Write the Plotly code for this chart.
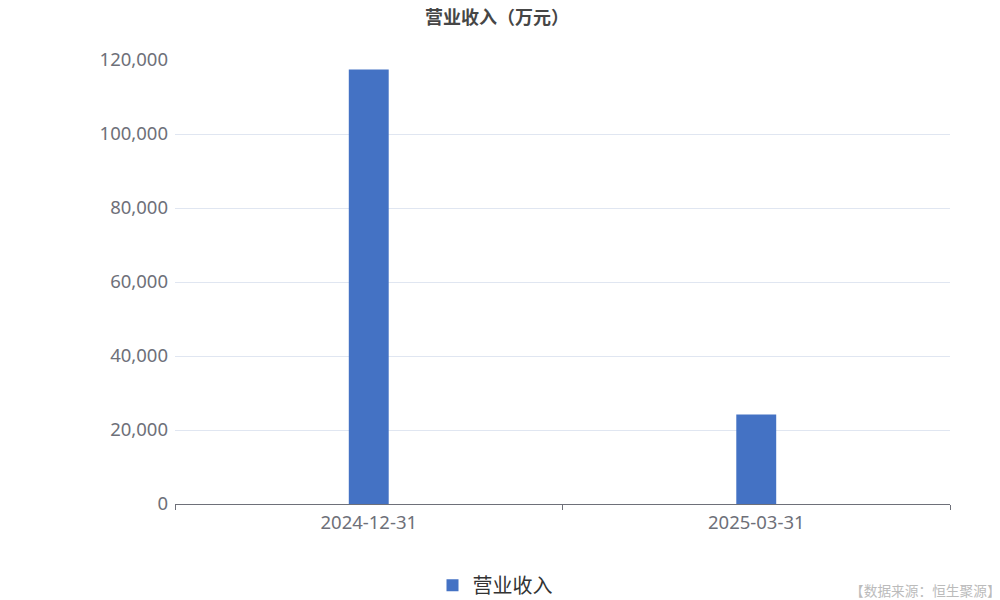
import plotly.graph_objects as go

dates = ["2024-12-31", "2025-03-31"]
revenue = [117400, 24200]
y_ticks = [0, 20000, 40000, 60000, 80000, 100000, 120000]
y_labels = ["0", "20,000", "40,000", "60,000", "80,000", "100,000", "120,000"]

bar = go.Bar(
    x = dates,
    y = revenue,
    name = "营业收入",
    marker = dict(color = "#4472C4", line = dict(width = 0)),
    width = 0.103,
)

# the page puts the figure 8px in from the top-left, so margins are shifted by that
layout = go.Layout(
    width = 1000,
    height = 600,
    plot_bgcolor = "white",
    paper_bgcolor = "white",
    margin = dict(l = 167, r = 58, t = 52, b = 104),
    font = dict(family = "Noto Sans, Noto Sans CJK SC", color = "#6E7079"),
    title = dict(
        text = "<b>营业收入（万元）</b>",
        xref = "container", yref = "container",
        x = 0.489, xanchor = "center",
        y = 0.984, yanchor = "middle",
        font = dict(size = 18, color = "#464646", family = "Noto Sans CJK SC"),
    ),
    xaxis = dict(
        type = "category",
        showline = True, linecolor = "#6E7079", linewidth = 1,
        ticks = "outside", tickson = "boundaries", ticklen = 5, tickcolor = "#6E7079",
        tickfont = dict(size = 18.5, color = "#6E7079"),
        ticklabelstandoff = 2,
        showgrid = False,
    ),
    yaxis = dict(
        range = [0, 120000],
        tickvals = y_ticks, ticktext = y_labels,
        showgrid = True, gridcolor = "#E0E6F1", gridwidth = 1,
        zeroline = False, showline = False,
        ticks = "", ticklabelstandoff = 6,
        tickfont = dict(size = 18.5, color = "#6E7079"),
    ),
    showlegend = True,
    legend = dict(
        orientation = "h", xref = "container", yref = "container",
        x = 0.487, xanchor = "center", y = 0.038, yanchor = "middle",
        font = dict(size = 20, color = "#333333", family = "Noto Sans CJK SC"),
    ),
    annotations = [dict(
        text = "【数据来源：恒生聚源】", xref = "paper", yref = "paper",
        x = (995 - 167) / 775, y = -(582 - 496) / 444, xanchor = "right", yanchor = "middle",
        showarrow = False, font = dict(size = 13.7, color = "#BBBBBB", family = "Noto Sans CJK SC"),
    )],
)

fig = go.Figure(data = [bar], layout = layout)
fig.write_html("out.html")
